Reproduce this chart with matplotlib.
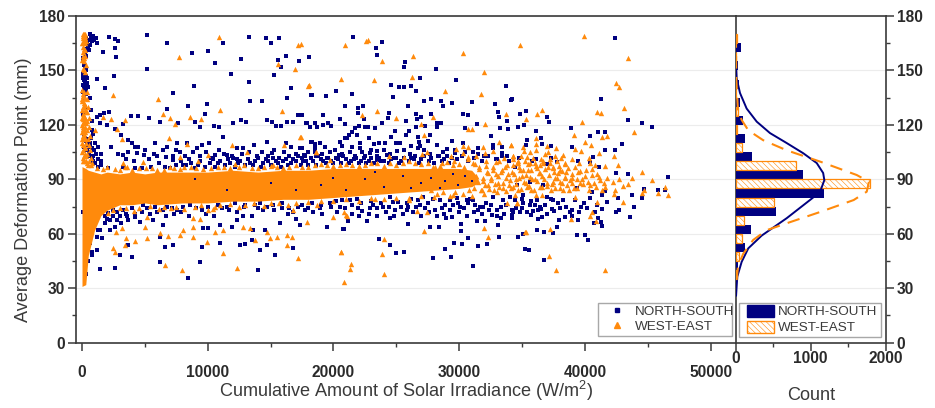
import matplotlib
matplotlib.use('Agg')
import matplotlib.pyplot as plt
from matplotlib.lines import Line2D
from matplotlib.patches import Patch, Rectangle
from matplotlib.ticker import MultipleLocator

plt.rcParams['font.family'] = ['Liberation Sans', 'DejaVu Sans']
plt.rcParams['mathtext.default'] = 'regular'
plt.rcParams['hatch.linewidth'] = 0.4

NAVY = '#000080'
ORANGE = '#ff8a0c'
DARK = '#3a3a3a'

# dense core of the cloud, too merged to read single points: upper and lower edge
core_x = [0, 300, 500, 1000, 1500, 2000, 3000, 4000, 5000, 6000, 8000, 10000, 12000, 14000, 16000, 18000, 20000, 22000, 24000, 26000, 28000, 30000, 31000, 31500]
core_top = [97, 96, 95, 94, 93, 94, 93, 94, 93, 94, 94, 94, 95, 94, 95, 95, 96, 96, 96, 96, 96, 96, 95, 91]
core_low = [31, 32, 48, 62, 70, 73, 76, 76, 77, 76, 77, 77, 78, 78, 79, 79, 80, 81, 82, 83, 84, 85, 86, 88]

# north-south points
ns_pts = [
    (1162,164.9),(2142,168.6),(2620,167.3),(2830,166),(2620,162.5),(2725,157.6),(1639,160.3),(5163,169.5),(6753,165.1),(8767,159.4),
    (9987,160.5),(10570,153.9),(5137,151),(2513,146.7),(1188,145.4),(1824,140.5),(7257,137.7),(8900,141.4),(11842,148.2),(13272,143.6),
    (11179,165.1),(13272,168.6),(14600,167.7),(14995,165.1),(15657,168),(12636,156.3),(15605,155.7),(15843,152),(16267,158.1),(15287,147.3),
    (17247,155.2),(18042,157.6),(16611,140.1),(18255,136.6),(16347,134.6),(13352,133.1),(14306,133),(8450,130.4),(9907,131.3),(6753,128.5),
    (1188,124.3),(1427,125.4),(1745,126.3),(2143,127.3),(3865,124.9),(4475,124.7),(5349,123.6),(6197,121.8),(7655,120.8),(8980,121.8),
    (9748,126),(9377,118.8),(10490,119.4),(10887,119),(12027,120.8),(12610,122.7),(13008,121.4),(14677,122.7),(15075,121.6),(15472,119.4),
    (15817,119.4),(16347,121.6),(16797,121.8),(17195,125.4),(17539,125.4),(17857,121.2),(18520,120.8),(18705,119),
    (1427,120.8),(1957,119.9),(2620,118),(3282,120.5),(3070,114.4),(3680,111.6),(3945,109.8),(4210,108),(4475,108),(3680,105.2),
    (3282,103.4),(4343,104.3),(4950,103.4),(5800,109.8),(5720,103.9),(6460,106.1),(6647,102.5),(7522,109.8),(7469,106.1),(7257,100.6),
    (8317,109.8),(9165,107),(9510,108.9),(10093,109.8),(10570,103.4),(11232,113.1),(11497,103.4),(12345,107),(12822,107),(13670,108.9),
    (14677,110.7),(15075,104.3),(16267,109.8),(16665,108),(17327,107),(17645,103.4),(18255,110.7),(18520,107),(18917,109.8),
    (21556,168.6),(23384,162.4),(23835,165.5),(23490,158.7),(18058,157.6),(25690,154.7),(25610,152.1),(28128,150.6),(26856,145.8),(29717,144.6),
    (24603,142),(25239,140.7),(25636,140.9),(26166,141.6),(26590,138.5),(18270,136.6),(19382,135.7),(20178,138.7),(21502,137),(24709,135.4),
    (27227,133.2),(27730,134.1),(28578,133.3),(28684,130.2),(29452,132),(31042,132.8),(32844,131.7),(33719,141.4),(34117,133.9),(20893,130.6),
    (22377,130.2),(21980,129.1),(21980,126.5),(17500,125.4),(19170,125.4),(24391,126.5),(24365,123.6),(25955,130.6),(26537,125.8),(26988,124.2),
    (27756,126),(30274,126),(30725,125.3),(33083,126.9),(33136,124.2),(33825,122.1),(20522,123.4),(20893,120.7),(22430,123.2),
    (18137,119),(17925,121.2),(18535,120.9),(18667,118.6),(19144,119.9),(19595,121.2),(19806,119.4),(21715,118.1),(22059,119.4),(22510,119),
    (22775,118.6),(23305,118.1),(23835,121.2),(25769,122),(26564,118.6),(26670,123),(27280,119.4),(28207,118.6),(28260,120.9),(28551,121.2),
    (30460,118.1),(31387,120.3),(33242,118.1),(33904,117.9),(34647,118.6),(24895,116.8),(26008,116.8),(21450,116.3),(21264,114.4),(20920,112.6),
    (20522,110.7),(21052,112.6),(21900,114.4),(22854,112.8),(24550,113.3),(25769,114.4),(26696,113.5),(27677,114.4),(26829,110.7),(29400,111.3),
    (32526,114),(18270,110.7),(18535,109.5),(20655,108.4),(21450,108),(22112,109.8),(23225,109.5),(23649,109.8),(24100,110.2),(24974,110.2),
    (25292,110.2),(26166,108.4),(26882,108.4),(27545,111.3),(28207,108.9),(30274,110.2),(32659,108.9),(33430,108),(31520,107.1),(17474,107.4),
    (19330,108),(19740,105.2),(18535,105.2),(20469,103.4),(22244,105.2),(23437,105.6),(25080,105.6),(26749,107.1),(29000,106.5),(28737,105.2),
    (29665,104.3),(31122,105.2),(32712,107.1),(33375,104.7),(17740,102.8),(22907,104.3),(23437,100.6),(24232,103.4),
    (42368,168),(41280,134.4),(34180,134.1),(34842,125.8),(35319,127.5),(36962,124.2),(37121,121.8),(43455,122.7),(44515,121),(45363,119),
    (34683,118.6),(35160,120.1),(36087,116.6),(38897,118.1),(41017,115.9),(41573,115.9),(40434,113.9),(36538,112.8),(35372,111.7),(35292,108.9),
    (36591,109.6),(37280,108.4),(39000,107.6),(42924,109.3),(42421,106.2),(41573,106),(40672,102.1),(40407,99.4),(39426,100.1),(36114,101.2),
    (36962,98.4),(37757,99.7),(41149,97),(34445,97),
    (20868,62.7),(21160,67.1),(22670,66.9),(24500,68.5),(25956,65.2),(27679,63.9),(28395,63.8),(28951,68.5),(30170,65.4),(30170,61.6),
    (31389,67.1),(32025,67.1),(33057,64.7),(33297,68.5),(34198,68.5),(34700,58.4),(35046,59.9),(23625,57.3),(24472,53.7),(24976,49.3),
    (25638,49.8),(27891,46.5),(29349,47.4),(31071,42.3),(28871,51.8),(29587,55),(30223,54.2),(30727,57.5),(31468,53.5),(32237,54.4),
    (33191,58.3),(35232,51.8),(35523,51.1),
    (20657,78.6),(21319,78.6),(21981,74.1),(22300,72.6),(21849,79),(22909,74.1),(23439,74.1),(23969,75),(24896,73.1),(24764,77.7),
    (25162,77.7),(25824,73.1),(25957,75),(26884,75.9),(26752,78.6),(27547,76.8),(28077,73.1),(28607,74),(29534,75.9),(30064,75),
    (30727,76.8),(31257,75.9),(31919,74.6),(31654,75),(32582,70.4),(33297,74.6),(34172,73.1),(34834,71.9),(35364,72.2),(33509,78.6),
    (34040,80.5),(32714,80.5),(29799,79.6),(28474,78.6),(24499,80.5),(23174,75.9),(25824,76.8),(27149,80.5),(29269,78.6),(30594,78.6),(31124,78.6),
    (46635,91.3),(45840,84.2),(46396,84.2),(44727,84.5),(44515,79.6),(43772,81.4),(43931,74.6),(43587,69.1),(43402,93),(42474,93.7),
    (42739,73.1),(42474,72),(41335,73.7),(41070,68.9),(41282,66.7),(41335,64.5),(40725,65.8),(40275,56.8),(40010,59.5),(39347,59.5),
    (39453,67.8),(38949,70),(38446,69.1),(37916,67.4),(37757,63.6),(37492,60.6),(36777,61),(36167,61.9),(36591,69.3),(36246,68.2),
    (35717,70.2),(35876,72.6),(36510,73.7),(37360,73.5),(37545,72.6),(35372,71.9),(34842,71.9),(34180,70.4),(34180,68.5),(35107,59.7),
    (34710,58.4),(35240,51.8),(35584,50.9),(36724,45.8),(39665,74.6),(40937,75.9),(41732,77.7),(40407,79.6),(39930,77.2),(39214,78.6),
    (38287,78.6),(37492,78.6),(36962,80.1),(36034,75.9),(35107,76.8),(34445,78.6),(36167,78.6),(35107,81.4),(42660,79.6),(41335,81.4),
    (40539,83.2),(41600,83.8),(39347,85.1),(36697,86.9),(35637,88.8),(34577,86.9),
    (1165,58.4),(1562,57.5),(1430,62.1),(2225,62.1),(2092,71.3),(2490,73.1),(2225,67.6),(2755,67.6),(3682,67.6),(4610,66.7),
    (5670,67.6),(6465,64.9),(6465,73.1),(7127,74),(7525,73.1),(8045,75),(9512,73.1),(4875,75.9),(9645,63.4),(10042,63.4),
    (10970,64.9),(11897,63.9),(13620,62.1),(14547,62.1),(15740,65.8),(17330,64.9),(19450,63.9),(20775,62.5),(12825,69.8),(14415,73.1),
    (16800,72.2),(18920,74),(20510,75),(6200,58.4),(7260,53.8),(6597,52.9),(9512,52.9),(10970,54.7),(12560,53.8),(12957,54.2),
    (13487,56.6),(14680,53.8),(14150,51.1),(15342,48.3),(16800,52),(3682,53.8),(3020,48.3),(3947,47.4),(1165,51),(767,48.3),
    (14150,76.8),(12295,67.6),(8430,35.7),(1430,40.6),(2625,41),(6200,44.5),(9380,44.5),(14000,40),
    # along the axis
    (300,168),(500,167),(700,168),(400,165),(650,164),(300,162),(550,161),(200,160),(100,155),(250,152),
    (150,149),(320,147),(100,146),(220,144),(380,143),(150,141),(280,140),(80,138),(200,130),(100,126),
    (120,115),(260,113),(350,111),(180,108),(420,106),(600,103),(800,101),(1000,99),(1300,97),(900,103),
    (100,72),(600,55),(800,50),(500,45),(300,38),(700,62),(1000,66),(1300,62),
    (850,169),(950,167),(1100,168),(800,166),(600,170),(450,163),(350,158),(60,157),(180,153),(320,150),
    (60,148),(250,147),(420,146),(160,145),(300,143),(50,142),(450,141),(200,139),(350,137),(120,135),
    (500,112),(650,110),(430,109),(800,107),(550,105),(1100,104),(1250,101),(1500,100),(650,108),(900,100),
    (700,128),(760,122),(820,117),(640,135),(900,115),(720,113),(1020,110),(980,106),(1300,108),(1500,104),
    # upper fringe
    (1500,98),(2100,96),(3300,97),(4200,96),(4800,96),(5500,97),(6100,99),(6600,97),(7000,96),(7500,98),
    (7900,100),(8300,98),(8700,99),(9000,96),(9400,100),(9800,97),(10200,99),(10600,97),(11000,100),(11400,98),
    (11800,99),(12200,97),(12600,100),(13000,98),(13400,99),(13800,100),(14200,97),(14600,101),(15000,98),(15400,100),
    (15800,97),(16200,101),(16600,99),(17000,100),(17400,98),(17800,100),(18200,102),(18600,98),(19000,101),(19400,99),
    (19800,100),(20200,102),(20600,99),(21000,101),(21400,100),(21800,102),(22200,100),(22600,99),(23000,102),(23800,100),
    (24600,101),(25400,100),(26200,102),(27000,101),(27800,102),(28600,100),(29400,102),
    (8000,98),(8500,101),(9200,98),(10400,101),(10800,99),(11600,101),(12000,102),(12400,99),(13200,101),(13600,98),
    (14000,102),(14400,99),(14800,100),(15200,102),(15600,99),(16000,100),(16400,98),(16800,101),(17200,103),(17600,100),
    (18000,98),(18400,100),(18800,103),(19200,100),(19600,102),(20000,99),(20400,101),(20800,103),(21200,99),(21600,101),
    (22000,99),(22400,102),(22800,100),(23200,99),(23600,102),(24000,100),(24400,99),(24800,102),(25200,99),(25600,102),
    (26000,100),(26400,101),(26800,99),(27200,103),(27600,100),(28000,99),(28400,103),(28800,101),(29200,99),(29800,101),
    (30200,103),(30700,100),(31200,102),(31800,100),(32300,103),(32900,101),(33400,103),(34000,100),
    (2300,108),(2900,104),(3500,101),(4100,100),(5000,106),(5300,101),(6000,103),(6800,108),(7200,103),(7800,105),
    (8200,103),(8800,105),(9400,103),(9900,105),(10300,102),(10900,106),(11300,104),(11900,103),(12300,101),(12700,104),
    (13300,105),(13900,103),(14300,105),(14800,103),(15300,106),(15700,102),(16100,105),(16500,103),(17000,104),(17500,102),
    (18000,105),(18600,103),(19100,104),(19500,102),(20100,106),(20700,104),(21300,105),(21700,103),(22100,107),(22500,103),
    (23000,106),(23500,103),(24000,106),(24500,104),(25000,102),(25600,106),(26100,104),(26500,103),(27200,106),(27700,104),
    (28300,103),(29000,103),(29700,106),(30500,105),(31500,104),(32000,103),(33000,101),(33800,103),(34800,102),(35800,100),(37300,102),
    # lower fringe
    (1800,70),(2800,72),(3300,73),(4000,74),(5200,74),(5800,75),(6800,75),(8600,76),(10000,75),(10800,76),
    (11500,75),(12200,77),(13000,76),(13800,76),(15200,76),(15900,77),(17500,76),(18300,77),(19700,77),(20200,78),
    (2500,70),(3000,70),(3500,71),(2000,68),(1800,66),(4200,71),(16500,74),(17200,75),(18000,74),(19000,76),
    (21500,76),(22200,77),(23000,78),(23800,77),(24400,75),(25400,75),(26200,79),(26600,75),(27300,74),(27900,79),
    (28900,76),(29300,73),(29900,77),(30400,74),(30900,79),(31500,73),(32100,77),(32500,76),(33000,73),(33700,76),
    (34500,74),(35000,79),(35600,76),(36300,73),(36800,76),(37300,79),(37900,77),(38500,75),(39000,73),
    (2600,64),(3100,66),(3600,70),(4200,69),(4800,72),(5400,71),(6000,72),(6700,70),(7300,71),(7900,72),
    (8500,70),(9100,74),(9900,71),(10500,70),(11100,74),(11700,73),(12300,72),(12900,75),(13500,70),(14000,74),
    (14700,75),(15300,73),(15900,74),(16400,71),(17000,68),(17700,73),(18400,72),(19100,71),(19800,75),(20300,72),
    (20900,74),(21500,71),(22000,70),(22800,71),(23500,70),(24200,72),(24800,70),(25500,71),(26300,72),(27000,70),
    (27600,72),(28200,70),(28800,71),(29400,69),(30000,72),(30600,70),(31200,72),(31800,71),(32400,73),(33000,70),
    (33600,71),(34300,72),(35000,74),(35700,78),(36400,75),(37000,71),(38000,74),(38800,72),(39500,72),(40200,74),(40800,72),
]

# navy specks showing through the orange core
speck_x = [9000, 11500, 15000, 19000, 21000, 22500, 24000, 25500, 27000, 28500, 29500, 31000, 26200, 27800, 28900, 29900, 30500, 23300, 20000, 17000]
speck_y = [90, 84, 88, 87, 84, 90, 86, 92, 88, 85, 93, 89, 85, 91, 89, 87, 92, 94, 91, 84]

# west-east points
we_pts = [
    (10887,168.2),(7734,157.2),(15605,153.3),(16982,151),(17221,164),(17407,164.7),(18016,141.6),(2487,136.6),(6038,134.2),(11000,128),
    (15949,127.4),(6409,125.8),(6965,123.6),(7363,120.3),(8582,124.5),(9457,123.2),(2300,123),(3388,122.9),(1692,124.5),(1030,117.2),
    (2752,118),(3150,112.2),(6913,112.6),(8317,109.4),(17327,113.1),(16055,108.9),(11895,108.9),(13087,105.2),(10040,103.4),(7787,102.5),
    (4872,99.3),(9243,100),(3282,98.8),(3415,97),(15207,97.9),(12160,98.4),(18650,105.2),
    (20893,163.8),(22563,166.2),(22722,167),(23861,155.4),(26325,158),(30327,159.6),(32000,149),(18058,141.8),(20601,145.5),(23225,144.7),
    (26220,146.2),(28896,138.5),(31758,136.8),(23463,127.5),(22271,125.6),(24947,123.8),(27916,124.3),(33693,126.2),(26988,120.7),(32023,120.7),
    (30725,117.6),(31042,117.6),(17395,113.1),(27226,114.4),(33189,110.4),(34090,108.7),(30327,108.4),(30725,108),(31917,108),(18587,105.2),
    (27465,104.9),(27015,103.8),(24444,103),(25636,102.5),(29346,103),(29717,106.7),(30725,102.5),(31307,103),(32712,105.8),(34249,102.8),
    (30327,104.3),(32050,104.7),(19727,100.6),
    (39956,169),(34842,163.8),(43455,157),(42448,142.9),(42739,140.9),(43137,129.5),(40937,127.1),(41308,126.5),(36591,128),(36220,126),
    (35345,123.4),(39797,121.8),(43931,116.1),(39135,114.4),(41785,113.9),(41361,113.1),(36087,113),(40010,110.4),(40486,108.7),(36087,109.5),
    (34126,108.7),(35054,108),(36962,108.4),(37677,107),(39214,106.5),(39718,105.6),(37041,104.9),(35637,105.1),(35160,105.8),(38287,103.4),
    (41149,104.3),(42289,102.8),(40327,101.6),(34285,102.8),(35372,102.1),(37651,102.8),(36697,100.3),(36034,99.2),(34710,99.2),(39506,99.2),
    (38446,98.3),(42660,97.9),(40804,97.7),(41600,97.3),(37492,97),(36432,97.9),
    (20842,72.2),(21107,70),(26619,72.8),(27467,72),(31972,63),(27202,61.6),(23995,57.2),(32264,58.4),(35285,61),(23837,48.7),
    (20600,50.2),(21398,43.4),(21346,40.4),(24049,37.9),(20816,33.3),(26036,78.6),(23306,79),(33774,76.8),(34569,76.8),
    (44515,94.1),(45362,89.9),(46396,86),(46635,81.6),(45840,82.3),(44515,82.7),(44700,84.2),(43719,90.6),(43455,87.3),(43057,86.4),
    (42686,90),(42262,88.7),(42421,84.2),(42315,81.8),(43057,77.7),(41599,85.6),(41202,89.7),(40539,92.4),(40407,86.9),(40990,77.7),
    (40539,72.2),(40407,69.8),(40884,67.3),(38897,68),(37227,62.8),(35240,61.2),(37121,47.6),(37730,39.9),(41573,40.3),(39214,80.5),
    (38419,90.6),(38949,87.8),(39612,87.8),(38022,85),(37439,88.7),(36564,81.4),(36114,81.4),(34577,76.8),(34445,81.4),(37888,93.3),
    (36432,93.3),(35637,91.5),(34842,95.2),(34577,98.9),(36697,98.9),(38419,98.9),(39479,94.3),(40407,98.9),(37492,96.1),(35372,86),(34312,86),
    (5007,63.9),(5140,69.4),(2702,61.2),(3152,63),(6200,60.3),(6862,58.8),(8055,62.1),(8850,63.9),(8850,68.5),(9380,68),
    (10042,73.1),(10572,61.2),(11235,62.1),(10572,74.6),(12825,63.9),(13355,63),(14680,61.2),(15475,58.4),(16270,59.3),(16667,58.4),
    (13752,56.6),(14945,57.5),(16270,53.8),(5140,57.5),(4212,56.2),(3497,57.5),(2490,52),(2622,50.1),(3417,53.8),(7790,59.3),
    (8850,58.4),(9910,55.7),(11235,49.2),(17197,46.5),(20642,50.1),(19980,69.4),(21040,70.4),(17860,66.7),(16800,73.1),(6600,42.8),
    (7955,40),(12330,41),
    # along the axis
    (50,170),(150,170),(250,170),(50,168),(150,167),(250,168),(100,165),(200,165),(50,163),(150,162),
    (80,160),(220,158),(120,155),(300,153),(60,151),(180,150),(100,136),(40,134),(160,132),(60,130),
    (200,128),(100,126),(30,124),(160,122),(280,121),(60,119),(180,117),(60,114),(140,112),(40,110),
    (200,108),(100,106),(250,104),(60,102),(170,100),(400,99),(700,98),
    (20,139),(130,138),(60,137),(200,135),(30,133),(250,131),(120,130),(20,128),(300,127),(170,125),
    (50,123),(250,124),(110,121),(20,120),(220,119),(100,118),(30,116),(260,116),(120,115),(200,113),
    (20,112),(300,110),(100,109),(230,107),(30,105),(330,103),(150,103),(50,100),(280,100),(450,98),
    (60,169),(200,169),(120,169),(300,166),(30,165),(220,161),(100,158),(40,156),(170,157),(230,149),
    (430,138),(380,134),(500,130),(420,127),(560,124),(400,122),(520,119),(380,117),(600,114),(450,112),
    (520,109),(640,106),(430,104),(720,102),(560,100),(800,99),
    # orange cloud past the solid core
    (27800,84),(27900,88),(28100,97),(28700,83),(29500,98),(29700,83),(30400,97),(30800,84),(31100,99),(31600,97),
    (31800,84),(31900,89),(32100,100),(32200,94),(32300,87),(32500,91),(32700,97),(32800,84),(32900,93),(33100,88),
    (33200,100),(33400,95),(33500,85),(33700,91),(33800,98),(34000,87),(34200,94),(34300,101),(34500,90),(34700,84),
    (34800,97),(35000,92),(35200,100),(35300,88),(35500,95),(35700,84),(35900,102),(36000,90),(36200,96),(36400,86),
    (36600,92),(36800,104),(37000,88),(37100,97),(37300,84),(37600,91),(37800,100),(38000,95),(38200,88),(38500,94),
    (38700,84),(39000,91),(39200,97),(39400,85),(39800,90),(40100,95),(40300,84),(40700,88),(41000,93),(41400,84),(41800,91),
    (28200,82),(29300,81),(30300,82),(31000,81),(32000,82),(33000,83),(27900,97),(28600,99),(29600,100),(30700,101),
    (33600,102),(34900,103),(35600,99),(36100,106),(37200,101),(38100,102),(39000,101),
    (31200,85.3),(31350,92.1),(31480,88.4),(31620,95.7),(31740,83.9),(31880,90.6),(32030,86.8),(32160,97.2),(32290,93.4),(32410,84.7),
    (32560,89.9),(32690,95.1),(32820,87.3),(32950,99.4),(33080,91.8),(33210,85.6),(33360,94.2),(33490,88.1),(33620,96.7),(33750,83.8),
    (33880,92.9),(34010,89.4),(34140,85.2),(34270,97.8),(34400,93.1),(34530,87.6),(34660,100.3),(34790,90.7),(34920,84.9),(35050,95.4),
    (35180,88.8),(35310,92.6),(35440,98.2),(35570,86.3),(35700,94.9),(35830,90.1),(35960,84.4),(36090,97.6),(36220,88.9),(36350,93.7),
    (36480,101.4),(36610,85.8),(36740,90.4),(36870,95.9),(37000,86.2),(37130,92.3),(37260,99.1),(37390,87.7),(37520,93.8),(37650,85.1),
    (37780,90.9),(37910,97.3),(38040,88.6),(38170,94.4),(38300,84.3),(38430,91.2),(38560,87.1),(38690,96.5),(38820,89.6),(38950,93.2),
    (39150,85.4),(39350,90.3),(39600,94.8),(39850,87.2),(40050,92.1),(40250,88.3),(40550,95.6),(40850,85.9),(41100,91.4),(41500,87.8),
    # upper fringe of the core
    (1200,96),(2000,97),(3000,95),(3600,97),(4500,96),(5600,96),(6500,95),(7300,96),(8100,97),(9100,96),
    (10300,96),(11300,97),(12500,97),(13500,96),(14500,97),(15500,97),(16500,97),(17500,97),(18500,98),(19500,98),
    (20500,98),(21500,98),(22500,98),(23500,99),(24500,99),(25500,99),(26500,99),(27500,99),
    (1700,95.5),(2600,95.8),(4000,95.2),(5100,96.3),(6000,95.4),(7000,96.6),(7800,95.7),(8700,96.8),(9600,95.6),(10800,96.9),
    (11800,96.2),(12900,97.8),(14000,96.1),(15000,97.6),(16000,96.4),(17000,98.1),(18000,96.7),(19000,98.4),(20000,97.2),(21000,98.6),
    (22000,97.3),(23000,99.2),(24000,97.4),(25000,98.1),(26000,100.2),(27000,98.3),(28500,97.6),(29000,99.3),(30000,98.4),(31300,98.2),
    # lower fringe of the core
    (2500,73),(3500,74),(4500,74),(6500,75),(7500,75),(9000,75),(11000,76),(13000,76),(15000,77),(17000,77),
    (19000,78),(21000,79),(23000,80),(25000,80),(27000,81),
    (2100,71.4),(3000,74.2),(4100,72.8),(5400,75.1),(6100,73.6),(7100,74.4),(8100,73.9),(9500,75.7),(10400,73.8),(11800,76.2),
    (12500,74.6),(13700,76.9),(14500,75.3),(15700,76.7),(16400,75.9),(18000,77.3),(18700,75.6),(20000,77.9),(22000,78.2),(24000,79.1),
    (26000,79.6),(28000,80.4),(29500,81.2),
]

# histograms on the right
bin_centers = [35, 45, 55, 65, 75, 85, 95, 105, 115, 125, 135, 145, 155, 165]
ns_count = [10, 25, 120, 200, 535, 1182, 902, 222, 129, 102, 58, 40, 30, 67]
we_count = [20, 50, 80, 116, 507, 1787, 809, 89, 20, 25, 8, 6, 6, 20]

# fitted curves on the right
ns_curve_x = [5, 21, 80, 168, 346, 680, 990, 1124, 1182, 1166, 1080, 900, 680, 457, 280, 146, 57, 13, 3]
ns_curve_y = [26, 36.4, 44.6, 52, 59, 68.6, 78.6, 83, 89.6, 93.5, 99, 104.4, 110, 115.5, 121.8, 129, 137.6, 145.7, 155]
we_curve_x = [13, 30, 100, 233, 413, 680, 1124, 1573, 1747, 1777, 1613, 1124, 680, 365, 168, 80, 30, 8, 3]
we_curve_y = [34.5, 42, 49, 56.6, 62, 65.8, 72, 78.6, 83.2, 88.7, 92.4, 99.8, 106, 111.6, 117, 122.7, 128, 145, 170]

W, H = 935, 408
fig = plt.figure(figsize=(W / 100, H / 100), dpi=100)
ax = fig.add_axes([76 / W, 1 - 342.7 / H, (735.7 - 76) / W, 326.7 / H])
ax2 = fig.add_axes([735.7 / W, 1 - 342.7 / H, 150 / W, 326.7 / H])

ns_x = [p[0] for p in ns_pts]
ns_y = [p[1] for p in ns_pts]
we_x = [p[0] for p in we_pts]
we_y = [p[1] for p in we_pts]

# scatter
ax.scatter(ns_x, ns_y, s=8, marker='s', color=NAVY, linewidths=0, zorder=3)
ax.fill_between(core_x, core_low, core_top, color=ORANGE, linewidth=0, zorder=4)
ax.scatter(we_x, we_y, s=15, marker='^', color=ORANGE, linewidths=0, zorder=5)
ax.scatter(speck_x, speck_y, s=3, marker='s', color=NAVY, linewidths=0, zorder=6)

ax.set_xlim(-477, 52000)
ax.set_ylim(0, 180)
ax.set_xticks([0, 10000, 20000, 30000, 40000, 50000])
ax.xaxis.set_minor_locator(MultipleLocator(5000))
ax.set_xlabel('Cumulative Amount of Solar Irradiance (W/m$^2$)', fontsize=13.1, color=DARK, labelpad=-1)
ax.set_ylabel('Average Deformation Point (mm)', fontsize=13.1, color=DARK)
ax.yaxis.set_label_coords(-44 / 659.7, (342.7 - 190) / 326.7)
ax.spines['right'].set_visible(False)

# histogram
ns_pos = [c - 2.5 for c in bin_centers]
we_pos = [c + 2.5 for c in bin_centers]
ax2.barh(ns_pos, ns_count, height=5, color=NAVY, zorder=3)
ax2.barh(we_pos, we_count, height=5, facecolor='white', edgecolor=ORANGE, hatch='\\\\\\\\\\\\', linewidth=0.9, zorder=3)
ax2.plot(ns_curve_x, ns_curve_y, color=NAVY, lw=1.4, zorder=4)
ax2.plot(we_curve_x, we_curve_y, color=ORANGE, lw=1.5, ls=(0, (6, 4)), zorder=4)

ax2.set_xlim(0, 2000)
ax2.set_ylim(0, 180)
ax2.set_xticks([0, 1000, 2000])
ax2.xaxis.set_minor_locator(MultipleLocator(500))
ax2.yaxis.tick_right()
ax2.set_xlabel('Count', fontsize=13.1, color=DARK, labelpad=15)

for a in (ax, ax2):
    a.yaxis.set_major_locator(MultipleLocator(30))
    a.yaxis.set_minor_locator(MultipleLocator(15))
    a.grid(axis='y', which='major', color='#ececec', lw=0.8, zorder=0)
    a.set_axisbelow(True)
    a.tick_params(which='major', length=6, width=1.1, color=DARK, labelsize=11.2, pad=2, labelcolor='#2a2a2a')
    a.tick_params(which='minor', length=3, width=1.0, color=DARK)
    for label in a.get_xticklabels() + a.get_yticklabels():
        label.set_fontweight('bold')
    for s in a.spines.values():
        s.set_color(DARK)
        s.set_linewidth(1.2)
ax.tick_params(axis='x', which='major', pad=10)
ax2.tick_params(axis='x', which='major', pad=0)

# legends, frames drawn apart so they can sit exactly
ax.add_patch(Rectangle((522 / 659.7, 7 / 326.7), 133.7 / 659.7, 33 / 326.7, transform=ax.transAxes,
                       facecolor='white', edgecolor='#a8a8a8', lw=1, zorder=9))
h1 = [Line2D([], [], ls='', marker='s', ms=3, color=NAVY),
      Line2D([], [], ls='', marker='^', ms=4, color=ORANGE)]
leg = ax.legend(h1, ['NORTH-SOUTH', 'WEST-EAST'], loc='center left', bbox_to_anchor=(524 / 659.7, 23.5 / 326.7),
                borderaxespad=0, borderpad=0, fontsize=9.7, frameon=False,
                labelspacing=0.2, handletextpad=0.1, handlelength=2.5)
leg.set_zorder(10)

ax2.add_patch(Rectangle((3.3 / 150, 6 / 326.7), 141.7 / 150, 34 / 326.7, transform=ax2.transAxes,
                        facecolor='white', edgecolor='#a8a8a8', lw=1, zorder=9))
h2 = [Patch(facecolor=NAVY, edgecolor=NAVY),
      Patch(facecolor='white', edgecolor=ORANGE, hatch='\\\\\\\\\\\\')]
leg2 = ax2.legend(h2, ['NORTH-SOUTH', 'WEST-EAST'], loc='center left', bbox_to_anchor=(11 / 150, 23 / 326.7),
                  borderaxespad=0, borderpad=0, fontsize=9.7, frameon=False,
                  labelspacing=0.2, handletextpad=0.25, handlelength=2.05, handleheight=0.95)
leg2.set_zorder(10)
for t in leg.get_texts() + leg2.get_texts():
    t.set_color(DARK)

fig.savefig('out.png', dpi=100)
